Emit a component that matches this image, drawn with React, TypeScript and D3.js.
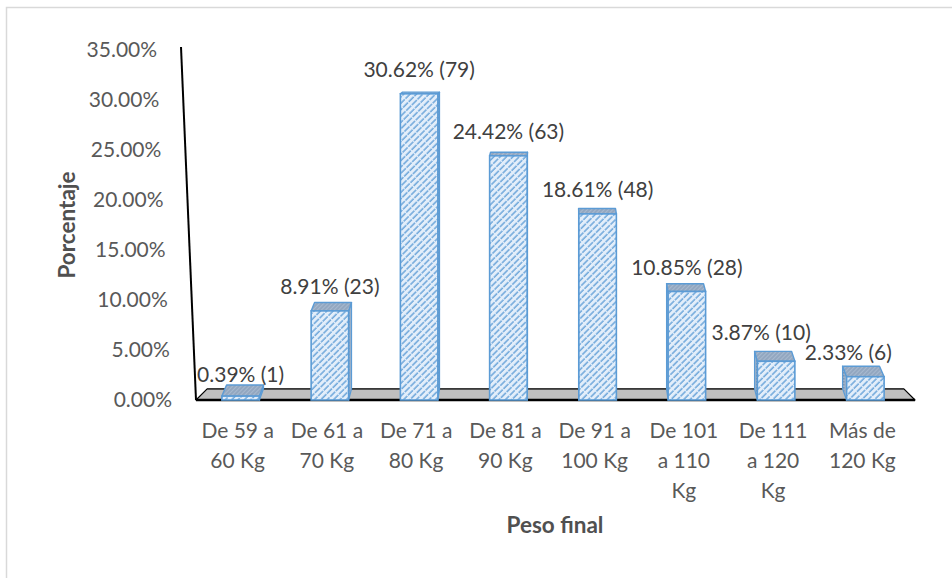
import React from "react";
import * as d3 from "d3";

// Distribution of final weight (Peso final)
const categories: string[][] = [
  ["De 59 a", "60 Kg"],
  ["De 61 a", "70 Kg"],
  ["De 71 a", "80 Kg"],
  ["De 81 a", "90 Kg"],
  ["De 91 a", "100 Kg"],
  ["De 101", "a 110", "Kg"],
  ["De 111", "a 120", "Kg"],
  ["Más de", "120 Kg"],
];
const percentages: number[] = [0.39, 8.91, 30.62, 24.42, 18.61, 10.85, 3.87, 2.33];
const counts: number[] = [1, 23, 79, 63, 48, 28, 10, 6];
const yTicks: number[] = [0, 5, 10, 15, 20, 25, 30, 35];

// label nudges so neighbouring labels do not collide
const labelDx = [0, 0, 0, 0, 0, 0, -15, -17];
const labelDy = [3, 0, 0, 0, 0, 0, -4, 0];

const W = 952;
const H = 578;
const FONT = "Lato, 'Noto Sans', sans-serif";
const TEXT = "#595959";
const BLUE = "#5b9bd5";
const FS = 21;

// perspective toward a vanishing point (depth of the 3D box)
const VX = 556;
const VY = 40;
const K = 0.969;
const KX_BAR = 0.986;
const AXIS_LEAN = 15;

export default function App() {
  const y = d3.scaleLinear().domain([0, 35]).range([400, 50]);
  const x = d3
    .scaleBand<number>()
    .domain(d3.range(categories.length))
    .range([196, 910]);
  const barW = x.bandwidth() * 0.42;
  const y0 = y(0);

  const floorL = x.range()[0];
  const floorR = x.range()[1] + 5;
  const back = (px: number, py: number, kx = K) => [VX + (px - VX) * kx, VY + (py - VY) * K];

  // the value axis leans outward as it rises
  const axisTopY = y(35) - 3;
  const axisX = (py: number) => floorL - (AXIS_LEAN * (y0 - py)) / (y0 - axisTopY);

  const fb = [back(floorL, y0), back(floorR, y0)];
  const floorPts = [[floorL, y0], fb[0], fb[1], [floorR, y0]];

  const poly = (pts: number[][]) => pts.map((p) => p.join(",")).join(" ");

  return (
    <svg
      width={W}
      height={H}
      style={{ position: "absolute", left: 0, top: 0, background: "#fff" }}
      fontFamily={FONT}
    >
      <defs>
        <pattern id="hatch" patternUnits="userSpaceOnUse" width={4.5} height={8} patternTransform="rotate(45)">
          <rect width={4.5} height={8} fill="#e3eefa" />
          <line x1={1} y1={0} x2={1} y2={8} stroke={BLUE} strokeWidth={1.3} strokeDasharray="7 1" />
        </pattern>
        <pattern id="capTex" patternUnits="userSpaceOnUse" width={3} height={3} patternTransform="rotate(45)">
          <rect width={3} height={3} fill="#a7b9cf" />
          <line x1={1} y1={0} x2={1} y2={3} stroke="#7e95b2" strokeWidth={1} />
        </pattern>
        <pattern id="sideTex" patternUnits="userSpaceOnUse" width={3} height={3}>
          <rect width={3} height={3} fill="#9fb2c9" />
          <rect width={1.5} height={1.5} fill="#7d93ae" />
        </pattern>
      </defs>

      {/* outer frame */}
      <rect x={6.5} y={7.5} width={1000} height={1000} fill="none" stroke="#d9d9d9" strokeWidth={1.5} />

      {/* floor */}
      <polygon points={poly(floorPts)} fill="#bfbfbf" stroke="#000" strokeWidth={1.2} strokeLinejoin="round" />
      <line x1={fb[0][0]} y1={fb[0][1]} x2={fb[1][0]} y2={fb[1][1]} stroke="#3a3a3a" strokeWidth={1} />
      <line x1={floorL} y1={y0} x2={floorR} y2={y0} stroke="#000" strokeWidth={2.5} />

      {/* vertical axis line */}
      <line x1={floorL} y1={y0} x2={axisX(axisTopY)} y2={axisTopY} stroke="#000" strokeWidth={2} />

      {/* y tick labels */}
      {yTicks.map((t) => (
        <text key={t} x={axisX(y(t)) - 24} y={y(t) + 7} textAnchor="end" fontSize={FS} fill={TEXT}>
          {t.toFixed(2) + "%"}
        </text>
      ))}

      {/* bars */}
      {percentages.map((v, i) => {
        const cx = (x(i) as number) + x.bandwidth() / 2;
        const l = cx - barW / 2;
        const r = cx + barW / 2;
        const t = y(v);
        const bl = back(l, t, KX_BAR);
        const br = back(r, t, KX_BAR);
        const brb = back(r, y0, KX_BAR);
        const blb = back(l, y0, KX_BAR);
        const side = cx < VX ? [[r, t], br, brb, [r, y0]] : [[l, t], bl, blb, [l, y0]];
        return (
          <g key={i}>
            <polygon points={poly(side)} fill="url(#sideTex)" stroke={BLUE} strokeWidth={1.2} strokeLinejoin="round" />
            <polygon points={poly([[l, t], bl, br, [r, t]])} fill="url(#capTex)" stroke={BLUE} strokeWidth={1.4} strokeLinejoin="round" />
            <rect x={l} y={t} width={r - l} height={y0 - t} fill="url(#hatch)" stroke={BLUE} strokeWidth={1.6} />
          </g>
        );
      })}

      {/* data labels */}
      {percentages.map((v, i) => {
        const cx = (x(i) as number) + x.bandwidth() / 2;
        return (
          <text
            key={i}
            x={cx + labelDx[i]}
            y={y(v) - 17 + labelDy[i]}
            textAnchor="middle"
            fontSize={FS}
            fill="#404040"
          >
            {`${v.toFixed(2)}% (${counts[i]})`}
          </text>
        );
      })}

      {/* category labels */}
      {categories.map((lines, i) => {
        const cx = (x(i) as number) + x.bandwidth() / 2;
        return (
          <text key={i} textAnchor="middle" fontSize={FS} fill={TEXT}>
            {lines.map((ln, j) => (
              <tspan key={j} x={cx - 3} y={438 + j * 30}>
                {ln}
              </tspan>
            ))}
          </text>
        );
      })}

      {/* axis titles */}
      <text
        transform="translate(75,225) rotate(-90)"
        textAnchor="middle"
        fontSize={22.5}
        fontWeight="bold"
        fill="#505050"
      >
        Porcentaje
      </text>
      <text x={555} y={533} textAnchor="middle" fontSize={22.5} fontWeight="bold" fill="#505050">
        Peso final
      </text>
    </svg>
  );
}
